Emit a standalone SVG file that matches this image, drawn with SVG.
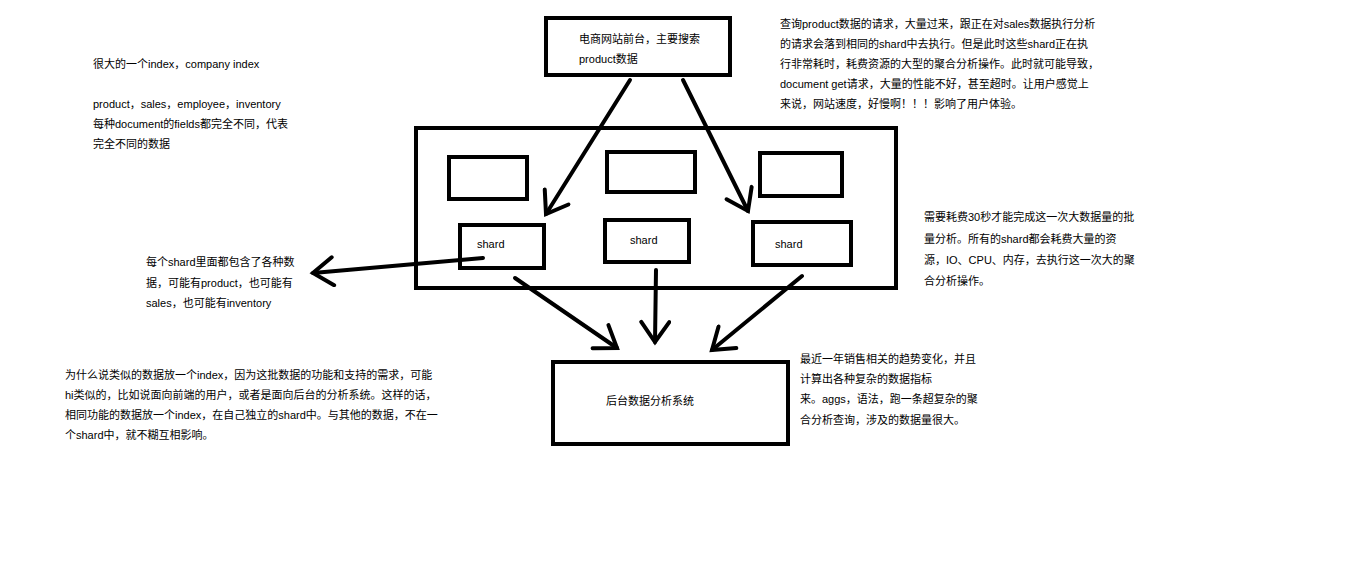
<svg xmlns="http://www.w3.org/2000/svg" width="1360" height="561" viewBox="0 0 1360 561">
<style>
.b{fill:none;stroke:#000;stroke-width:4}
.t{font-family:"Liberation Sans","Noto Sans CJK SC",sans-serif;font-size:11px;fill:#000}
.c{fill:none;stroke:#000;stroke-width:4;stroke-linecap:round;stroke-linejoin:round}
</style>
<defs><marker id="a" markerWidth="8" markerHeight="8" refX="6" refY="4" orient="auto" markerUnits="strokeWidth"><path d="M1,0.5 L6,4 L1,7.5" fill="none" stroke="#000" stroke-width="1" stroke-linecap="round"/></marker></defs>
<rect width="1360" height="561" fill="#fff"/>
<g id="front"><rect class="b" x="546" y="18" width="184" height="57"/><text class="t" x="579" y="43">电商网站前台，主要搜索</text><text class="t" x="579" y="63">product数据</text></g>
<g id="index"><rect class="b" x="416" y="128" width="480" height="160"/>
<rect class="b" x="449" y="157" width="78" height="42"/><rect class="b" x="607" y="152" width="88" height="40"/><rect class="b" x="760" y="153" width="82" height="43"/></g>
<g id="shard1"><rect class="b" x="460" y="225" width="84" height="43"/><text class="t" x="477" y="248">shard</text></g>
<g id="shard2"><rect class="b" x="605" y="220" width="84" height="42"/><text class="t" x="630" y="244">shard</text></g>
<g id="shard3"><rect class="b" x="753" y="222" width="98" height="43"/><text class="t" x="775" y="248">shard</text></g>
<g id="backend"><rect class="b" x="553" y="362" width="235" height="82"/><text class="t" x="606" y="405">后台数据分析系统</text></g>
<g id="connectors">
<path class="c" d="M630,80 L546,214" marker-end="url(#a)"/>
<path class="c" d="M683,80 L748,211" marker-end="url(#a)"/>
<path class="c" d="M483,258 L313,273" marker-end="url(#a)"/>
<path class="c" d="M515,278 L617,348" marker-end="url(#a)"/>
<path class="c" d="M656,270 L655,342" marker-end="url(#a)"/>
<path class="c" d="M802,276 L712,350" marker-end="url(#a)"/>
</g>
<g id="notes" class="t">
<text x="93" y="68">很大的一个index，company index</text>
<text x="93" y="108">product，sales，employee，inventory</text>
<text x="93" y="128">每种document的fields都完全不同，代表</text>
<text x="93" y="148">完全不同的数据</text>
<text x="780" y="28">查询product数据的请求，大量过来，跟正在对sales数据执行分析</text>
<text x="780" y="48">的请求会落到相同的shard中去执行。但是此时这些shard正在执</text>
<text x="780" y="68">行非常耗时，耗费资源的大型的聚合分析操作。此时就可能导致，</text>
<text x="780" y="88">document get请求，大量的性能不好，甚至超时。让用户感觉上</text>
<text x="780" y="108">来说，网站速度，好慢啊！！！影响了用户体验。</text>
<text x="924" y="221">需要耗费30秒才能完成这一次大数据量的批</text>
<text x="924" y="243">量分析。所有的shard都会耗费大量的资</text>
<text x="924" y="264">源，IO、CPU、内存，去执行这一次大的聚</text>
<text x="924" y="285">合分析操作。</text>
<text x="146" y="266">每个shard里面都包含了各种数</text>
<text x="146" y="287">据，可能有product，也可能有</text>
<text x="146" y="307">sales，也可能有inventory</text>
<text x="800" y="363">最近一年销售相关的趋势变化，并且</text>
<text x="800" y="383">计算出各种复杂的数据指标</text>
<text x="800" y="403">来。aggs，语法，跑一条超复杂的聚</text>
<text x="800" y="424">合分析查询，涉及的数据量很大。</text>
<text x="65" y="379">为什么说类似的数据放一个index，因为这批数据的功能和支持的需求，可能</text>
<text x="65" y="399">hi类似的，比如说面向前端的用户，或者是面向后台的分析系统。这样的话，</text>
<text x="65" y="419">相同功能的数据放一个index，在自己独立的shard中。与其他的数据，不在一</text>
<text x="65" y="439">个shard中，就不糊互相影响。</text>
</g>
</svg>
